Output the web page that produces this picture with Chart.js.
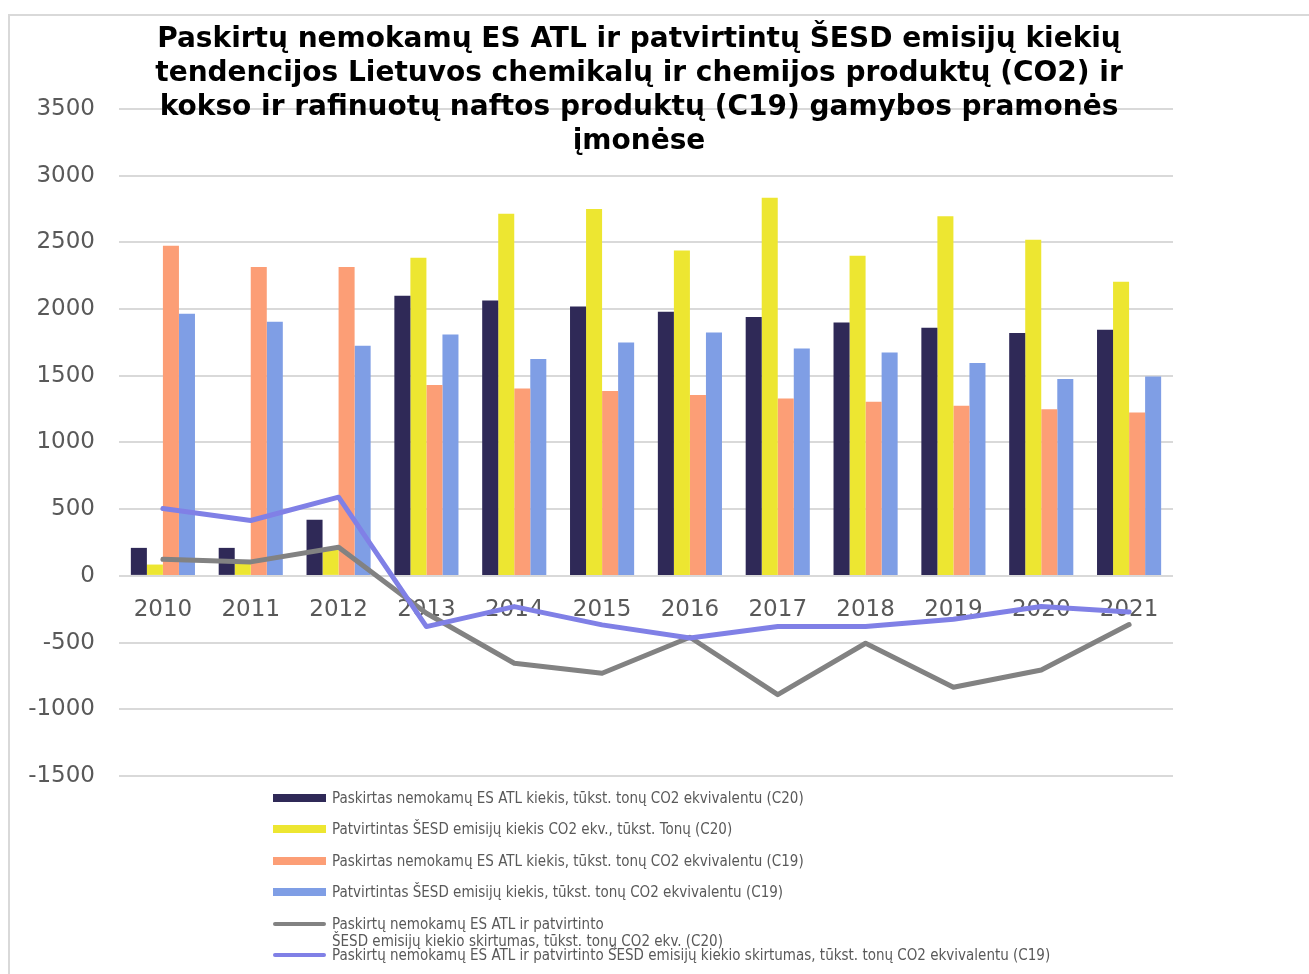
<!DOCTYPE html>
<html>
<head>
<meta charset="utf-8">
<script src="https://cdn.jsdelivr.net/npm/chart.js@4.4.1/dist/chart.umd.min.js"></script>
<style>
  body { margin: 0; background: #fff; }
  #wrap { position: relative; width: 1309px; height: 974px; overflow: hidden; }
  #frame { position: absolute; left: 8px; top: 14px; width: 1400px; height: 1100px;
           border-left: 2px solid #d9d9d9; border-top: 2px solid #d9d9d9; }
  #legend { position: absolute; left: 273px; top: 790px; font-family: "DejaVu Sans Condensed", "Liberation Sans", sans-serif;
            font-size: 15px; color: #595959; }
  .item { position: absolute; left: 0; white-space: nowrap; line-height: 17px; }
  .sw { position: absolute; left: 0; width: 53px; }
  .txt { position: absolute; left: 59px; top: 0; }
</style>
</head>
<body>
<div id="wrap">
  <div id="frame"></div>
  <canvas id="chart" width="1309" height="974"></canvas>
  <div id="legend"></div>
</div>
<script>
const years = ['2010', '2011', '2012', '2013', '2014', '2015', '2016', '2017', '2018', '2019', '2020', '2021'];

// C20 - kokso ir rafinuotu naftos produktu gamyba
const allocC20 = [210, 210, 420, 2100, 2065, 2020, 1980, 1940, 1900, 1860, 1820, 1845];
const verifiedC20 = [85, 100, 205, 2385, 2715, 2750, 2440, 2835, 2400, 2695, 2520, 2205];
// C19 - chemikalu ir chemijos produktu gamyba
const allocC19 = [2475, 2315, 2315, 1430, 1405, 1385, 1355, 1330, 1305, 1275, 1250, 1225];
const verifiedC19 = [1965, 1905, 1725, 1810, 1625, 1750, 1825, 1705, 1675, 1595, 1475, 1495];
// skirtumai
const diffC20 = [125, 105, 215, -280, -655, -730, -460, -890, -505, -835, -705, -365];
const diffC19 = [505, 415, 590, -380, -230, -367, -465, -380, -380, -325, -230, -270];

const yTicks = [-1500, -1000, -500, 0, 500, 1000, 1500, 2000, 2500, 3000, 3500];

const titleLines = [
    'Paskirtų nemokamų ES ATL ir patvirtintų ŠESD emisijų kiekių',
    'tendencijos Lietuvos chemikalų ir chemijos produktų (CO2) ir',
    'kokso ir rafinuotų naftos produktų (C19) gamybos pramonės',
    'įmonėse'
];

const labels = [
    'Paskirtas nemokamų ES ATL kiekis, tūkst. tonų CO2 ekvivalentu (C20)',
    'Patvirtintas ŠESD emisijų kiekis CO2 ekv., tūkst. Tonų (C20)',
    'Paskirtas nemokamų ES ATL kiekis, tūkst. tonų CO2 ekvivalentu (C19)',
    'Patvirtintas ŠESD emisijų kiekis, tūkst. tonų CO2 ekvivalentu (C19)',
    ['Paskirtų nemokamų ES ATL ir patvirtinto', 'ŠESD emisijų kiekio skirtumas, tūkst. tonų CO2 ekv. (C20)'],
    'Paskirtų nemokamų ES ATL ir patvirtinto ŠESD emisijų kiekio skirtumas, tūkst. tonų CO2 ekvivalentu (C19)'
];

const colors = ['#2f2957', '#ede631', '#fc9e76', '#7f9ee5', '#828282', '#8080e6'];

function barSet(i, data) {
    return {
        type: 'bar', label: labels[i], data: data,
        backgroundColor: colors[i], borderWidth: 0, order: 2,
        categoryPercentage: 0.73, barPercentage: 1.0
    };
}
function lineSet(i, data, order) {
    return {
        type: 'line', label: labels[i], data: data,
        borderColor: colors[i], backgroundColor: colors[i], borderWidth: 5,
        pointRadius: 0, tension: 0, order: order,
        borderCapStyle: 'round', borderJoinStyle: 'round'
    };
}

const ctx = document.getElementById('chart').getContext('2d');
const chart = new Chart(ctx, {
    type: 'bar',
    data: {
        labels: years,
        datasets: [
            barSet(0, allocC20),
            barSet(1, verifiedC20),
            barSet(2, allocC19),
            barSet(3, verifiedC19),
            lineSet(4, diffC20, 1),
            lineSet(5, diffC19, 0)
        ]
    },
    options: {
        responsive: false,
        animation: false,
        layout: { padding: { left: 0, right: 31, top: 0, bottom: 198 } },
        plugins: {
            legend: { display: false },
            tooltip: { enabled: false },
            title: {
                display: true,
                text: titleLines,
                color: '#000',
                font: { family: 'DejaVu Sans', size: 28, weight: 'bold', lineHeight: 1.214 },
                padding: { top: 23, bottom: -50 }
            }
        },
        scales: {
            x: {
                position: { y: 0 },
                grid: { display: false },
                border: { display: false },
                ticks: {
                    color: '#595959', padding: 12,
                    font: { family: 'DejaVu Sans', size: 23 }
                }
            },
            y: {
                min: -1500, max: 3500,
                afterFit: (scale) => { scale.width = 119; },
                afterBuildTicks: (scale) => { scale.ticks = yTicks.map(v => ({ value: v })); },
                grid: { color: '#d9d9d9', lineWidth: 2, drawTicks: false },
                border: { display: false },
                ticks: {
                    color: '#595959', padding: 24,
                    font: { family: 'DejaVu Sans', size: 23 },
                    callback: (v) => String(v)
                }
            },
            // tuscia desine asis, kad pavadinimas butu centre
            yPad: {
                position: 'right',
                min: -1500, max: 3500,
                afterFit: (scale) => { scale.width = 105; },
                grid: { display: false },
                border: { display: false },
                ticks: { display: false }
            }
        }
    }
});

// legenda po grafiku
const legendEl = document.getElementById('legend');
chart.data.datasets.forEach((ds, i) => {
    const row = document.createElement('div');
    row.className = 'item';
    row.style.top = (i * 31.4) + 'px';
    const sw = document.createElement('div');
    sw.className = 'sw';
    sw.style.background = ds.backgroundColor;
    if (ds.type === 'line') {
        sw.style.height = '4px'; sw.style.top = '6px'; sw.style.borderRadius = '2px';
    } else {
        sw.style.height = '8px'; sw.style.top = '4px';
    }
    const txt = document.createElement('div');
    txt.className = 'txt';
    txt.innerHTML = Array.isArray(ds.label) ? ds.label.join('<br>') : ds.label;
    row.appendChild(sw);
    row.appendChild(txt);
    legendEl.appendChild(row);
});
</script>
</body>
</html>
